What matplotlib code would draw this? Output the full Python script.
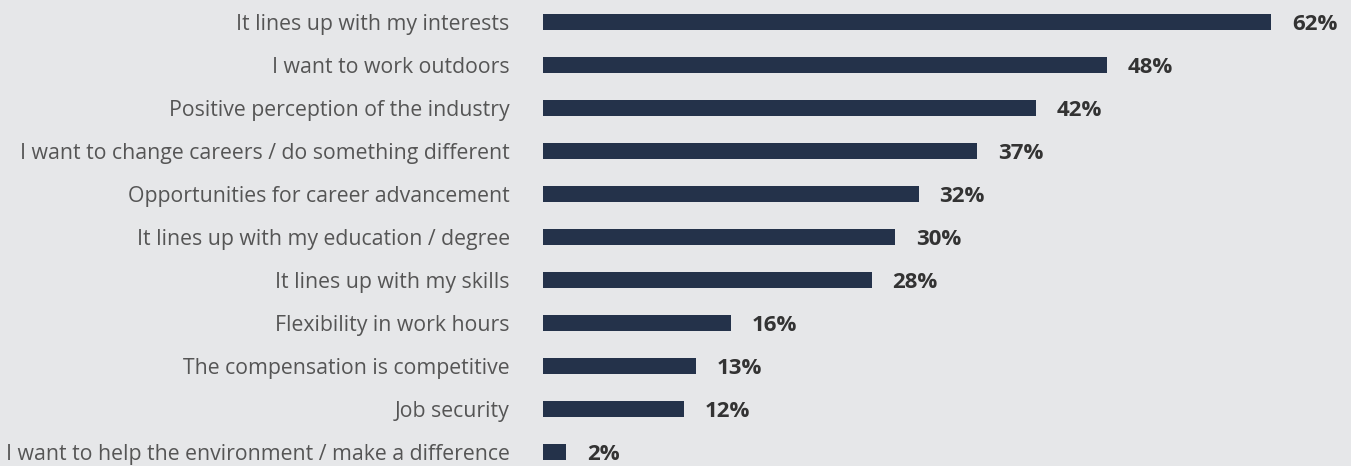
import matplotlib
matplotlib.use("Agg")
import matplotlib.pyplot as plt

reasons = [
    "It lines up with my interests",
    "I want to work outdoors",
    "Positive perception of the industry",
    "I want to change careers / do something different",
    "Opportunities for career advancement",
    "It lines up with my education / degree",
    "It lines up with my skills",
    "Flexibility in work hours",
    "The compensation is competitive",
    "Job security",
    "I want to help the environment / make a difference",
]
shares = [62, 48, 42, 37, 32, 30, 28, 16, 13, 12, 2]

BG = "#e6e7e9"
BAR = "#24324a"

plt.rcParams["font.family"] = ["Open Sans", "DejaVu Sans"]

W, H = 1351, 466
fig = plt.figure(figsize=(W / 100, H / 100), dpi=100, facecolor=BG)
left_px, right_px = 543, 1271
ax = fig.add_axes([left_px / W, 0, (right_px - left_px) / W, 1])
ax.set_facecolor(BG)

y = list(range(len(reasons)))
ax.barh(y, shares, height=0.37, color=BAR, edgecolor="none")
ax.set_xlim(0, max(shares))
ax.set_ylim(10 + 14 / 43, -22 / 43)

ax.set_yticks(y)
ax.set_yticklabels(reasons, fontsize=15.3, color="#555555")
ax.tick_params(axis="y", length=0, pad=24)
ax.set_xticks([])
for s in ax.spines.values():
    s.set_visible(False)

for yi, v in zip(y, shares):
    ax.annotate(f"{v}%", xy=(v, yi), xytext=(15, -1.5), textcoords="offset points",
                va="center", ha="left", fontsize=16, fontweight="bold",
                color="#333333", annotation_clip=False)

fig.savefig("out.png", dpi=100, facecolor=BG)
